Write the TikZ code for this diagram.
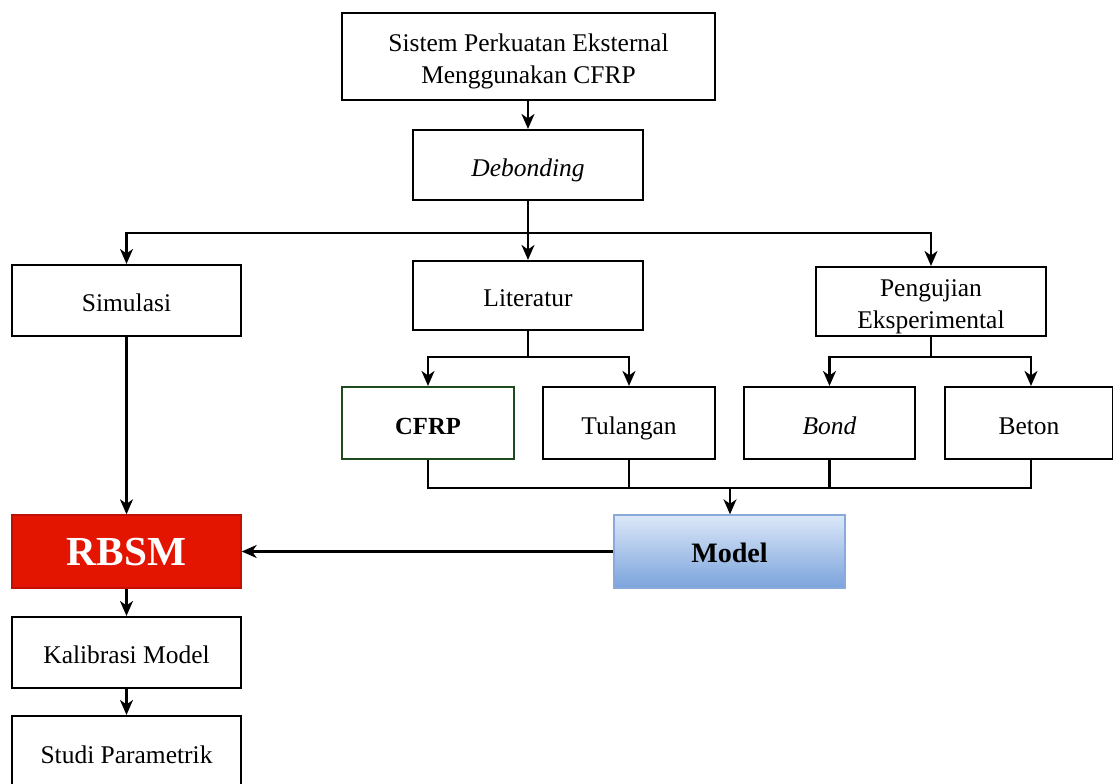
\documentclass[tikz,border=0pt]{standalone}
\usepackage{fontspec}
\setmainfont{Liberation Serif}
\usetikzlibrary{arrows.meta}
\definecolor{rbsmred}{HTML}{E31400}
\definecolor{rbsmborder}{HTML}{C01000}
\definecolor{modeltop}{HTML}{DCE8F8}
\definecolor{modelbot}{HTML}{7BA3DC}
\definecolor{modelborder}{HTML}{8AAADB}
\definecolor{cfrpgreen}{HTML}{1E4A1E}
\begin{document}
\begin{tikzpicture}[x=0.02cm, y=-0.02cm,
  box/.style={draw=black, line width=1.2pt, fill=white, align=center, inner sep=0pt,
    text height=13pt, text depth=0pt,
    font=\fontsize{14.5}{18.5}\selectfont},
  twoline/.style={text height=31pt, text depth=0pt},
  conn/.style={line width=1.2pt, draw=black},
  arr/.style={conn, -{Stealth[length=0.3cm, width=0.26cm, inset=0.09cm]}}
]
\clip (0,0) rectangle (1113,784);
\fill[white] (0,0) rectangle (1113,784);

\node[box, twoline, minimum width=7.46cm, minimum height=1.74cm] (top) at (528.5,56.5) {Sistem Perkuatan Eksternal\\Menggunakan CFRP};
\node[box, minimum width=4.6cm, minimum height=1.4cm] (deb) at (528,165) {\itshape Debonding};
\node[box, minimum width=4.58cm, minimum height=1.42cm] (sim) at (126.5,300.5) {Simulasi};
\node[box, minimum width=4.6cm, minimum height=1.38cm] (lit) at (528,295.5) {Literatur};
\node[box, twoline, minimum width=4.6cm, minimum height=1.38cm] (peng) at (931,301.5) {Pengujian\\Eksperimental};
\node[box, draw=cfrpgreen, minimum width=3.44cm, minimum height=1.44cm] (cfrp) at (428,423) {\bfseries\fontsize{14}{17}\selectfont CFRP};
\node[box, minimum width=3.44cm, minimum height=1.44cm] (tul) at (629,423) {Tulangan};
\node[box, minimum width=3.42cm, minimum height=1.44cm] (bond) at (829.5,423) {\itshape Bond};
\node[box, minimum width=3.36cm, minimum height=1.44cm] (beton) at (1029,423) {Beton};
\node[box, draw=modelborder, line width=0.8pt, top color=modeltop, bottom color=modelbot,
  minimum width=4.62cm, minimum height=1.46cm, text height=12pt,
  font=\bfseries\fontsize{16}{19}\selectfont] (model) at (729.5,551.5) {Model};
\node[box, draw=rbsmborder, fill=rbsmred, line width=0.8pt, text=white,
  minimum width=4.58cm, minimum height=1.46cm, text height=15.5pt,
  font=\bfseries\fontsize{23.5}{28}\selectfont] (rbsm) at (126.5,551.5) {RBSM};
\node[box, minimum width=4.58cm, minimum height=1.42cm] (kal) at (126.5,652.5) {Kalibrasi Model};
\node[box, minimum width=4.58cm, minimum height=1.44cm] (stu) at (126.5,752) {Studi Parametrik};

\coordinate (j1) at (528,233);
\coordinate (j2) at (528,357);
\coordinate (j3) at (931,357);
\coordinate (j4) at (730,488);

\draw[arr] (top.south -| deb.north) -- (deb.north);
\draw[conn] (deb.south) -- (j1);
\draw[arr] (j1) -| (sim.north);
\draw[arr] (j1) -- (lit.north);
\draw[arr] (j1) -| (peng.north);

\draw[conn] (lit.south) -- (j2);
\draw[arr] (j2) -| (cfrp.north);
\draw[arr] (j2) -| (tul.north);
\draw[conn] (peng.south) -- (j3);
\draw[arr] (j3) -| (bond.north);
\draw[arr] (j3) -| ([xshift=0.04cm]beton.north);

\draw[conn] (cfrp.south) |- (j4) -| ([xshift=0.04cm]beton.south);
\draw[conn] (tul.south) |- (j4);
\draw[conn] (bond.south) |- (j4);
\draw[arr] (j4) -- (j4 |- model.north);

\draw[arr] (model.west) -- (rbsm.east);
\draw[arr] (sim.south) -- (rbsm.north);
\draw[arr] (rbsm.south) -- (kal.north);
\draw[arr] (kal.south) -- (stu.north);
\end{tikzpicture}
\end{document}
